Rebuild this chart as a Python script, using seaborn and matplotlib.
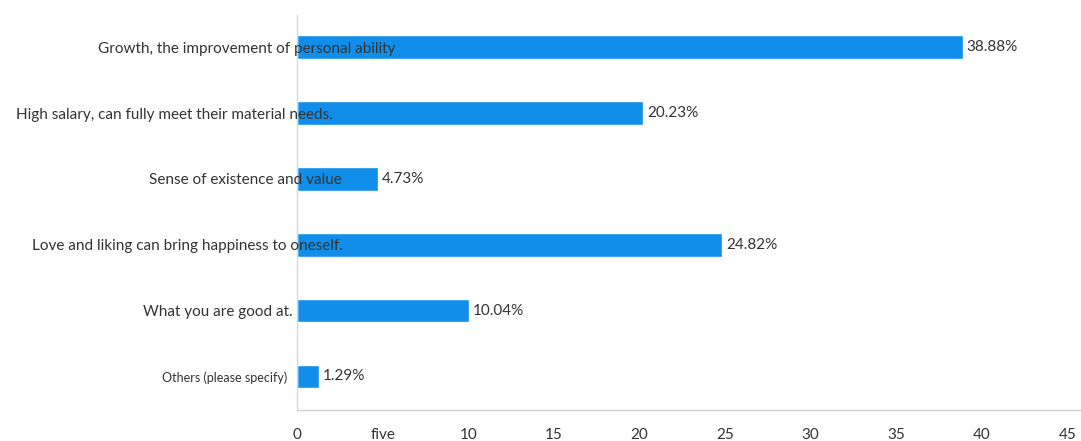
import matplotlib
matplotlib.use("Agg")
import matplotlib.pyplot as plt
import matplotlib.transforms as mtransforms
import seaborn as sns
import pandas as pd

categories = [
    "Growth, the improvement of personal ability",
    "High salary, can fully meet their material needs.",
    "Sense of existence and value",
    "Love and liking can bring happiness to oneself.",
    "What you are good at.",
    "Others (please specify)",
]
values = [38.88, 20.23, 4.73, 24.82, 10.04, 1.29]
value_labels = ["38.88%", "20.23%", "4.73%", "24.82%", "10.04%", "1.29%"]
x_ticks = [0, 5, 10, 15, 20, 25, 30, 35, 40, 45]
x_tick_labels = ["0", "five", "10", "15", "20", "25", "30", "35", "40", "45"]

sns.set_theme(style="white")
plt.rcParams["font.family"] = ["Lato", "DejaVu Sans"]

df = pd.DataFrame({"category": categories, "value": values})

fig = plt.figure(figsize=(10.81, 4.41), dpi=100)
ax = fig.add_axes([297 / 1081, 31 / 441, 1 - 297 / 1081, (410 - 15) / 441])

sns.barplot(data=df, y="category", x="value", orient="h", color="#118EEA",
            width=0.36, saturation=1, ax=ax)

ax.set_xlim(0, 45.8)
ax.set_ylim(5.51, -0.49)
ax.set_xlabel("")
ax.set_ylabel("")
ax.set_xticks(x_ticks)
ax.set_xticklabels(x_tick_labels, fontsize=11, color="#333333")
ax.tick_params(axis="x", length=0, pad=13)
ax.tick_params(axis="y", length=0, pad=0)

# y tick labels with individual offsets (pixels relative to the spine)
label_offsets = [98, 36, 45, 46, -4, -10]
label_sizes = [11, 11, 11, 11, 11, 9]
ax.set_yticks(range(len(categories)))
ax.set_yticklabels(categories)
for lab, dx, fs in zip(ax.get_yticklabels(), label_offsets, label_sizes):
    lab.set_fontsize(fs)
    lab.set_color("#333333")
    lab.set_horizontalalignment("right")
    lab.set_transform(lab.get_transform() + mtransforms.ScaledTranslation(dx / 100, 0, fig.dpi_scale_trans))
    lab.set_clip_on(False)
ax.yaxis.set_zorder(5)

for container in ax.containers:
    ax.bar_label(container, labels=value_labels, padding=3, fontsize=11, color="#333333")

for side in ["top", "right"]:
    ax.spines[side].set_visible(False)
ax.spines["left"].set_color("#cdd8e0")
ax.spines["left"].set_linewidth(1)
ax.spines["bottom"].set_color("#d3d3d3")
ax.spines["bottom"].set_linewidth(1)

fig.savefig("out.png", dpi=100)
